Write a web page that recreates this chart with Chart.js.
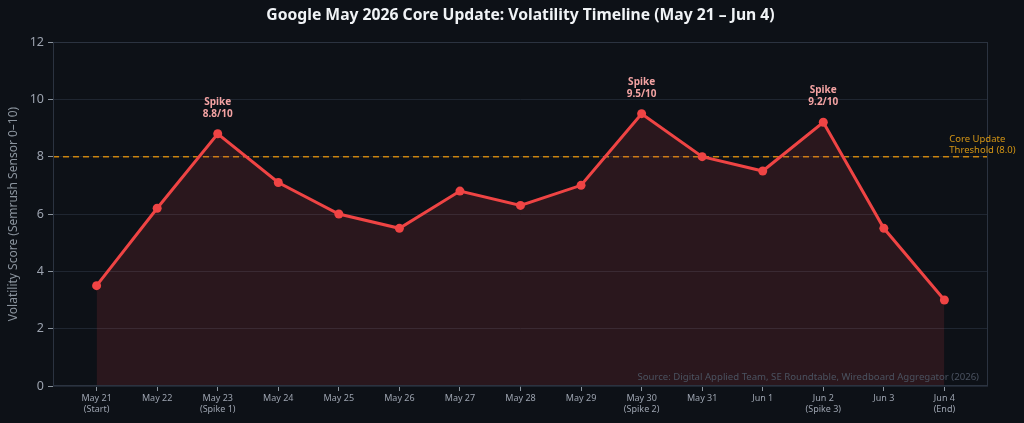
<!DOCTYPE html>
<html>
<head>
<meta charset="utf-8">
<script src="https://cdn.jsdelivr.net/npm/chart.js@4"></script>
<style>
  html, body { margin: 0; padding: 0; background: #0d1117; }
  #wrap { width: 1024px; height: 423px; }
</style>
</head>
<body>
<div id="wrap"><canvas id="vol-chart"></canvas></div>
<script>
// data
const days = ['May 21', 'May 22', 'May 23', 'May 24', 'May 25', 'May 26', 'May 27', 'May 28',
    'May 29', 'May 30', 'May 31', 'Jun 1', 'Jun 2', 'Jun 3', 'Jun 4'];
const dayNotes = ['(Start)', '', '(Spike 1)', '', '', '', '', '', '', '(Spike 2)', '', '', '(Spike 3)', '', '(End)'];
const volatility = [3.5, 6.2, 8.8, 7.1, 6.0, 5.5, 6.8, 6.3, 7.0, 9.5, 8.0, 7.5, 9.2, 5.5, 3.0];
const spikeIdx = [2, 9, 12];
const threshold = 8.0;
const yTicks = [0, 2, 4, 6, 8, 10, 12];

const font = "'Noto Sans', sans-serif";

// extra drawing: title, frame, threshold, notes
const extras = {
    id: 'extras',
    beforeDatasetsDraw(chart) {
        const { ctx, chartArea: a, scales: { y } } = chart;
        const ty = y.getPixelForValue(threshold);
        ctx.save();
        ctx.strokeStyle = 'rgba(245, 158, 11, 0.8)';
        ctx.lineWidth = 1.5;
        ctx.setLineDash([6, 4]);
        ctx.beginPath();
        ctx.moveTo(a.left, ty);
        ctx.lineTo(a.right, ty);
        ctx.stroke();
        ctx.restore();
    },
    afterDraw(chart) {
        const { ctx, chartArea: a, scales: { x, y } } = chart;
        ctx.save();
        // frame
        ctx.strokeStyle = '#2b3340';
        ctx.lineWidth = 1;
        ctx.strokeRect(a.left + 0.5, a.top + 0.5, a.right - a.left - 1, a.bottom - a.top - 1);

        // title
        ctx.fillStyle = '#f0f3f6';
        ctx.font = 'bold 15.7px ' + font;
        ctx.textAlign = 'center';
        ctx.textBaseline = 'middle';
        ctx.fillText('Google May 2026 Core Update: Volatility Timeline (May 21 \u2013 Jun 4)', (a.left + a.right) / 2, 16);

        // spike notes
        ctx.fillStyle = '#f4a3a3';
        ctx.font = 'bold 10px ' + font;
        ctx.textBaseline = 'alphabetic';
        spikeIdx.forEach(i => {
            const px = x.getPixelForValue(i);
            const py = y.getPixelForValue(volatility[i]);
            ctx.fillText('Spike', px, py - 29);
            ctx.fillText(volatility[i].toFixed(1) + '/10', px, py - 17);
        });

        // threshold label
        ctx.fillStyle = 'rgba(245, 170, 20, 0.85)';
        ctx.font = '9.5px ' + font;
        ctx.textAlign = 'left';
        const lx = x.getPixelForValue(14.08);
        const ly = y.getPixelForValue(threshold);
        ctx.fillText('Core Update', lx, ly - 15);
        ctx.fillText('Threshold (8.0)', lx, ly - 4);

        // source
        ctx.fillStyle = '#4b5361';
        ctx.font = '9.6px ' + font;
        ctx.textAlign = 'right';
        ctx.fillText('Source: Digital Applied Team, SE Roundtable, Wiredboard Aggregator (2026)', a.right - 9, a.bottom - 6);
        ctx.restore();
    }
};

document.addEventListener('DOMContentLoaded', () => {
    const ctx = document.getElementById('vol-chart').getContext('2d');

    new Chart(ctx, {
        type: 'line',
        data: {
            datasets: [{
                label: 'Volatility',
                data: volatility.map((v, i) => ({ x: i, y: v })),
                borderColor: '#ef4444',
                backgroundColor: 'rgba(239, 68, 68, 0.13)',
                borderWidth: 3,
                pointRadius: 4.5,
                pointBackgroundColor: '#ef4444',
                pointBorderColor: '#ef4444',
                pointBorderWidth: 0,
                fill: 'origin',
                tension: 0
            }]
        },
        options: {
            responsive: true,
            maintainAspectRatio: false,
            animation: false,
            layout: { padding: { top: 42, right: 36, left: 0, bottom: 0 } },
            plugins: {
                legend: { display: false },
                tooltip: { enabled: false }
            },
            scales: {
                x: {
                    type: 'linear',
                    min: -0.72,
                    max: 14.72,
                    afterBuildTicks: (axis) => { axis.ticks = days.map((d, i) => ({ value: i })); },
                    afterFit: (axis) => { axis.height = 37; },
                    grid: { drawOnChartArea: false, drawTicks: true, tickLength: 5, tickColor: '#8b949e' },
                    border: { display: false },
                    ticks: {
                        color: '#9ca3af',
                        font: { family: font, size: 9 },
                        padding: 2,
                        maxRotation: 0,
                        autoSkip: false,
                        callback: (v) => dayNotes[v] ? [days[v], dayNotes[v]] : days[v]
                    }
                },
                y: {
                    min: 0,
                    max: 12,
                    afterBuildTicks: (axis) => { axis.ticks = yTicks.map(v => ({ value: v })); },
                    afterFit: (axis) => { axis.width = 53; },
                    grid: { color: '#1f2631', lineWidth: 1, tickLength: 5, tickColor: '#8b949e' },
                    border: { display: false },
                    ticks: {
                        color: '#9ca3af',
                        font: { family: font, size: 12.5 },
                        padding: 4
                    },
                    title: {
                        display: true,
                        text: 'Volatility Score (Semrush Sensor 0\u201310)',
                        color: '#8b949e',
                        font: { family: font, size: 12 },
                        padding: { top: 6, bottom: 0 }
                    }
                }
            }
        },
        plugins: [extras]
    });
});
</script>
</body>
</html>
